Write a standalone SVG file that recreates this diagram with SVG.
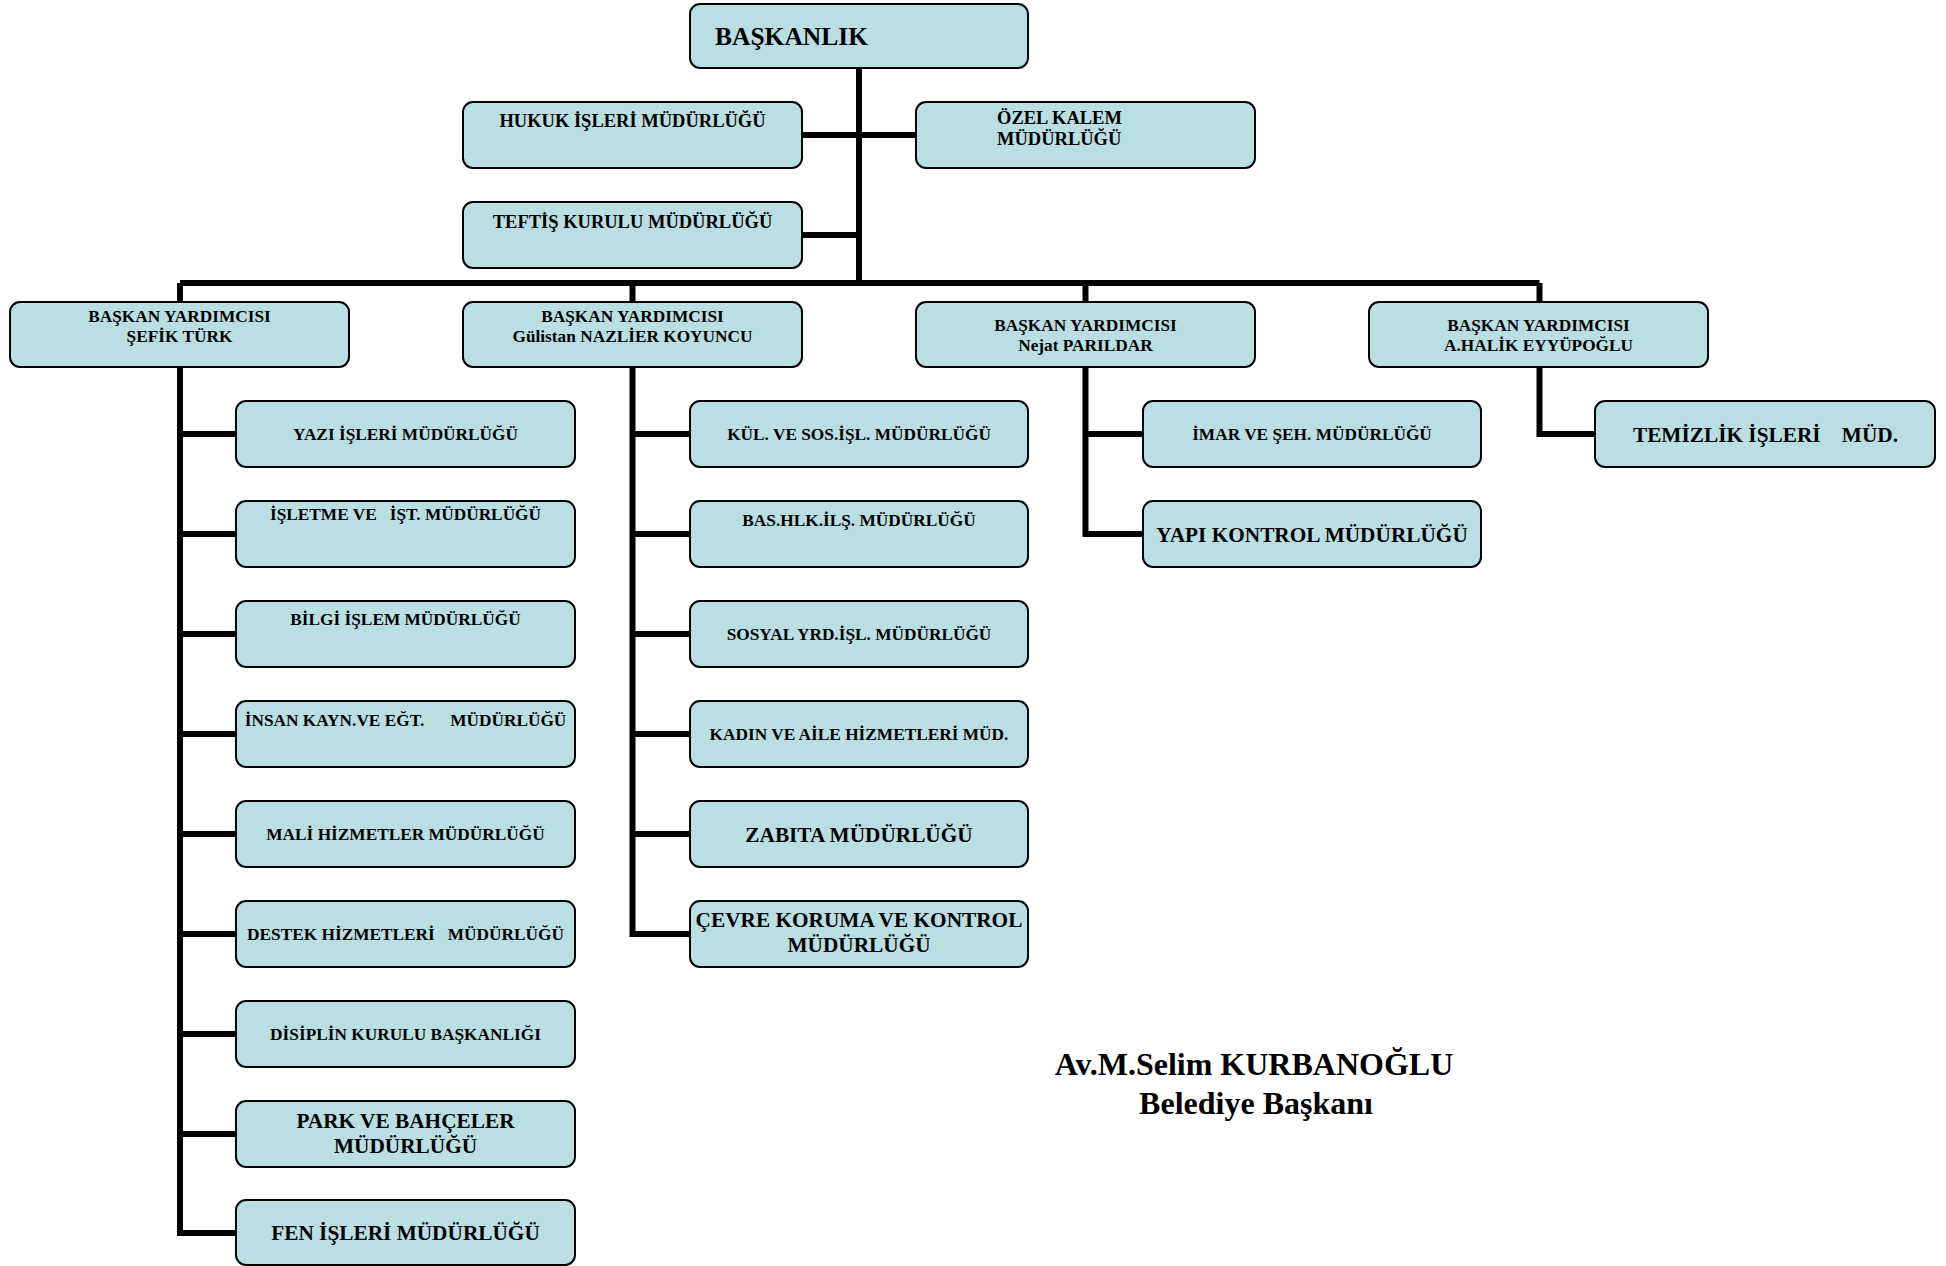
<svg xmlns="http://www.w3.org/2000/svg" width="1946" height="1266" viewBox="0 0 1946 1266">
<style>
.box{fill:#BADFE3;stroke:#000;stroke-width:2}
.t{font-family:"Liberation Serif","Times New Roman",serif;font-weight:bold;fill:#000}
.c{text-anchor:middle}
.s17{font-size:17.3px}
.s18{font-size:18.5px}
.s21{font-size:21.3px}
.pre{white-space:pre}
.ln{fill:none;stroke:#000;stroke-width:6;stroke-linejoin:miter;stroke-linecap:butt}
</style>
<rect width="1946" height="1266" fill="#fff"/>
<g id="connectors" class="ln">
<path d="M859,68 V286"/>
<path d="M802,135 H916"/>
<path d="M802,235 H859"/>
<path d="M180,283 H1539.5"/>
<path d="M180,283 V302 M632.5,283 V302 M1085.5,283 V302 M1539.5,283 V302"/>
<path d="M180,367 V1233 H236 M180,434 H236 M180,534 H236 M180,634 H236 M180,734 H236 M180,834 H236 M180,934 H236 M180,1034 H236 M180,1134 H236"/>
<path d="M632.5,367 V934 H690 M632.5,434 H690 M632.5,534 H690 M632.5,634 H690 M632.5,734 H690 M632.5,834 H690"/>
<path d="M1085.5,367 V534 H1143 M1085.5,434 H1143"/>
<path d="M1539.5,367 V434 H1595"/>
</g>
<g id="n-baskanlik"><rect class="box" x="690" y="4" width="338" height="64" rx="10"/><text class="t" x="715" y="45" font-size="25.5">BAŞKANLIK</text></g>
<g id="n-hukuk"><rect class="box" x="463" y="102" width="339" height="66" rx="10"/><text class="t c s18" x="632.5" y="127">HUKUK İŞLERİ MÜDÜRLÜĞÜ</text></g>
<g id="n-ozel"><rect class="box" x="916" y="102" width="339" height="66" rx="10"/><text class="t s18" x="997" y="124">ÖZEL KALEM</text><text class="t s18" x="997" y="145">MÜDÜRLÜĞÜ</text></g>
<g id="n-teftis"><rect class="box" x="463" y="202" width="339" height="66" rx="10"/><text class="t c s18" x="632.5" y="228">TEFTİŞ KURULU MÜDÜRLÜĞÜ</text></g>
<g id="n-vp1"><rect class="box" x="10" y="302" width="339" height="65" rx="10"/><text class="t c s17" x="179.5" y="322">BAŞKAN YARDIMCISI</text><text class="t c s17" x="179.5" y="342">ŞEFİK TÜRK</text></g>
<g id="n-vp2"><rect class="box" x="463" y="302" width="339" height="65" rx="10"/><text class="t c s17" x="632.5" y="322">BAŞKAN YARDIMCISI</text><text class="t c s17" x="632.5" y="342">Gülistan NAZLİER KOYUNCU</text></g>
<g id="n-vp3"><rect class="box" x="916" y="302" width="339" height="65" rx="10"/><text class="t c s17" x="1085.5" y="331">BAŞKAN YARDIMCISI</text><text class="t c s17" x="1085.5" y="351">Nejat PARILDAR</text></g>
<g id="n-vp4"><rect class="box" x="1369" y="302" width="339" height="65" rx="10"/><text class="t c s17" x="1538.5" y="331">BAŞKAN YARDIMCISI</text><text class="t c s17" x="1538.5" y="351">A.HALİK EYYÜPOĞLU</text></g>
<g id="n-yazi"><rect class="box" x="236" y="401" width="339" height="66" rx="10"/><text class="t c s17" x="405.5" y="440">YAZI İŞLERİ MÜDÜRLÜĞÜ</text></g>
<g id="n-isletme"><rect class="box" x="236" y="501" width="339" height="66" rx="10"/><text class="t c s17 pre" xml:space="preserve" x="405.5" y="519.5">İŞLETME VE   İŞT. MÜDÜRLÜĞÜ</text></g>
<g id="n-bilgi"><rect class="box" x="236" y="601" width="339" height="66" rx="10"/><text class="t c s17" x="405.5" y="625">BİLGİ İŞLEM MÜDÜRLÜĞÜ</text></g>
<g id="n-insan"><rect class="box" x="236" y="701" width="339" height="66" rx="10"/><text class="t c s17 pre" xml:space="preserve" x="405.5" y="726">İNSAN KAYN.VE EĞT.      MÜDÜRLÜĞÜ</text></g>
<g id="n-mali"><rect class="box" x="236" y="801" width="339" height="66" rx="10"/><text class="t c s17" x="405.5" y="840">MALİ HİZMETLER MÜDÜRLÜĞÜ</text></g>
<g id="n-destek"><rect class="box" x="236" y="901" width="339" height="66" rx="10"/><text class="t c s17 pre" xml:space="preserve" x="405.5" y="940">DESTEK HİZMETLERİ   MÜDÜRLÜĞÜ</text></g>
<g id="n-disiplin"><rect class="box" x="236" y="1001" width="339" height="66" rx="10"/><text class="t c s17" x="405.5" y="1040">DİSİPLİN KURULU BAŞKANLIĞI</text></g>
<g id="n-park"><rect class="box" x="236" y="1101" width="339" height="66" rx="10"/><text class="t c s21" x="405.5" y="1128">PARK VE BAHÇELER</text><text class="t c s21" x="405.5" y="1153">MÜDÜRLÜĞÜ</text></g>
<g id="n-fen"><rect class="box" x="236" y="1200" width="339" height="65" rx="10"/><text class="t c s21" x="405.5" y="1240">FEN İŞLERİ MÜDÜRLÜĞÜ</text></g>
<g id="n-kul"><rect class="box" x="690" y="401" width="338" height="66" rx="10"/><text class="t c s17" x="859" y="440">KÜL. VE SOS.İŞL. MÜDÜRLÜĞÜ</text></g>
<g id="n-bashlk"><rect class="box" x="690" y="501" width="338" height="66" rx="10"/><text class="t c s17" x="859" y="526">BAS.HLK.İLŞ. MÜDÜRLÜĞÜ</text></g>
<g id="n-sosyal"><rect class="box" x="690" y="601" width="338" height="66" rx="10"/><text class="t c s17" x="859" y="640">SOSYAL YRD.İŞL. MÜDÜRLÜĞÜ</text></g>
<g id="n-kadin"><rect class="box" x="690" y="701" width="338" height="66" rx="10"/><text class="t c s17" x="859" y="740">KADIN VE AİLE HİZMETLERİ MÜD.</text></g>
<g id="n-zabita"><rect class="box" x="690" y="801" width="338" height="66" rx="10"/><text class="t c s21" x="859" y="841.5">ZABITA MÜDÜRLÜĞÜ</text></g>
<g id="n-cevre"><rect class="box" x="690" y="901" width="338" height="66" rx="10"/><text class="t c s21" x="859" y="927">ÇEVRE KORUMA VE KONTROL</text><text class="t c s21" x="859" y="952">MÜDÜRLÜĞÜ</text></g>
<g id="n-imar"><rect class="box" x="1143" y="401" width="338" height="66" rx="10"/><text class="t c s17" x="1312" y="440">İMAR VE ŞEH. MÜDÜRLÜĞÜ</text></g>
<g id="n-yapi"><rect class="box" x="1143" y="501" width="338" height="66" rx="10"/><text class="t c s21" x="1312" y="541.5">YAPI KONTROL MÜDÜRLÜĞÜ</text></g>
<g id="n-temizlik"><rect class="box" x="1595" y="401" width="340" height="66" rx="10"/><text class="t c s21 pre" xml:space="preserve" x="1765.5" y="441.5">TEMİZLİK İŞLERİ    MÜD.</text></g>
<g id="signature"><text class="t c" font-size="32" x="1254" y="1075">Av.M.Selim KURBANOĞLU</text><text class="t c" font-size="32" x="1256" y="1114">Belediye Başkanı</text></g>
</svg>
